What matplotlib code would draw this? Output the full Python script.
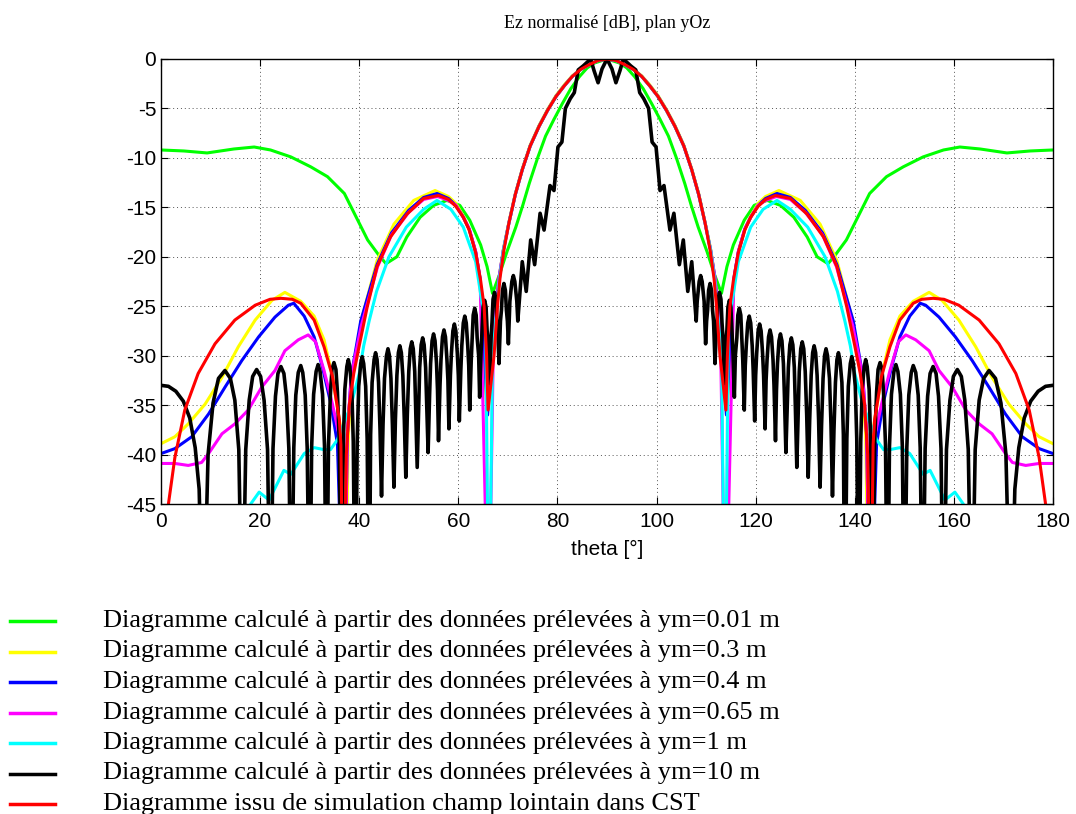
import matplotlib
matplotlib.use("Agg")
import matplotlib.pyplot as plt
from matplotlib.lines import Line2D
import numpy as np

plt.rcParams['axes.unicode_minus'] = False

# half patterns (theta 0..90 deg), mirrored about 90 deg
green_theta = [0, 4.6, 9.3, 14.7, 18.8, 22.1, 26.2, 30.2, 33.6, 37.0, 39.7, 41.7, 43.9, 45.4,
               47.6, 49.6, 52.3, 55.0, 57.7, 60.3, 62.3, 64.5, 65.8, 66.9, 68.3, 69.8, 71.6,
               73.0, 74.3, 76.0, 77.6, 79.3, 81.0, 82.7, 84.4, 86.0, 87.5, 90]
green_db = [-9.2, -9.3, -9.5, -9.1, -8.9, -9.2, -9.9, -10.9, -11.9, -13.6, -16.3, -18.3, -19.8, -20.7,
            -20.0, -18.0, -16.0, -14.8, -14.3, -14.8, -16.3, -18.8, -21.0, -23.7, -21.8, -19.5, -17.0,
            -14.8, -12.6, -10.0, -7.8, -6.1, -4.5, -3.0, -1.8, -0.9, -0.4, 0.0]

yellow_theta = [0, 2.8, 5.5, 8.9, 12.3, 15.6, 19.0, 22.4, 25.0, 28.2, 30.9, 32.9, 34.6, 36.3, 37.1,
                37.8, 38.6, 40.6, 43.6, 47.0, 51.0, 55.3, 58.0, 59.5, 61.0, 62.0, 63.4, 64.3, 65.8,
                67.1, 68.2, 69.1, 70.2, 71.5, 72.9, 74.5, 76.3, 78.0, 79.7, 81.4, 83.0, 84.7, 86.4,
                88.2, 90]
yellow_db = [-38.9, -38.2, -36.9, -34.9, -32.2, -29.1, -26.4, -24.4, -23.6, -24.5, -26.0, -28.4, -32.1,
             -37.5, -60, -38.0, -32.0, -26.1, -20.4, -16.7, -14.3, -13.3, -13.9, -14.6, -15.9, -17.0,
             -19.3, -22.0, -36.0, -28.0, -22.2, -19.2, -16.5, -13.6, -11.1, -8.7, -6.7, -5.1, -3.7,
             -2.6, -1.7, -1.0, -0.55, -0.15, 0.0]

blue_theta = [0, 2.8, 6.2, 9.6, 12.9, 16.3, 19.7, 23.0, 25.7, 26.8, 28.9, 30.9, 32.6, 34.3, 35.6,
              36.9, 37.6, 38.4, 40.3, 43.6, 46.5, 50.0, 53.0, 55.7, 58.0, 59.5, 61.0, 62.2, 63.5,
              64.4, 65.9, 67.1, 68.2, 69.1, 70.2, 71.5, 72.9, 74.5, 76.3, 78.0, 79.7, 81.4, 83.0,
              84.7, 86.4, 88.2, 90]
blue_db = [-39.9, -39.4, -38.2, -35.9, -33.2, -30.5, -28.1, -26.1, -24.9, -24.7, -26.0, -28.1, -31.2,
           -34.9, -38.9, -60, -38.0, -32.0, -26.5, -20.8, -17.6, -15.3, -14.0, -13.6, -14.1, -14.8,
           -16.0, -17.2, -19.5, -22.2, -36.0, -28.0, -22.2, -19.3, -16.6, -13.7, -11.2, -8.8, -6.8,
           -5.2, -3.8, -2.7, -1.76, -1.05, -0.57, -0.15, 0.0]

magenta_theta = [0, 2.8, 5.5, 8.2, 9.6, 12.3, 14.9, 17.6, 20.3, 23.0, 25.0, 27.7, 29.7, 31.2, 32.9,
                 34.6, 36.0, 36.9, 37.6, 38.4, 40.4, 43.7, 46.5, 50.0, 53.0, 55.8, 58.0, 59.5, 61.0,
                 62.2, 63.5, 64.4, 66.1, 67.1, 68.2, 69.1, 70.2, 71.5, 72.9, 74.5, 76.3, 78.0, 79.7,
                 81.4, 83.0, 84.7, 86.4, 88.2, 90]
magenta_db = [-40.9, -40.9, -41.1, -40.8, -39.9, -37.9, -36.9, -35.5, -33.2, -31.5, -29.5, -28.4, -27.9,
              -28.6, -31.5, -34.9, -38.2, -60, -38.0, -32.0, -27.0, -21.0, -17.8, -15.5, -14.2, -13.9,
              -14.3, -14.8, -16.0, -17.2, -19.5, -22.3, -60, -28.0, -22.2, -19.3, -16.6, -13.7,
              -11.2, -8.8, -6.8, -5.2, -3.8, -2.7, -1.76, -1.05, -0.57, -0.15, 0.0]

cyan_theta = [0, 17.5, 18.1, 19.8, 21.8, 24.8, 26.2, 28.9, 30.9, 32.9, 34.2, 35.6, 36.9, 38.3, 40.0,
              40.9, 42.0, 43.5, 46.0, 49.5, 53.0, 55.7, 58.5, 61.0, 63.5, 65.5, 66.2, 66.9, 68.3,
              69.1, 70.2, 71.5, 72.9, 74.5, 76.3, 78.0, 79.7, 81.4, 83.0, 84.7, 86.4, 88.2, 90]
cyan_db = [-60, -50, -45, -43.8, -44.6, -41.6, -42.0, -39.9, -39.3, -39.5, -39.5, -38.5, -36.8, -35.1,
           -31.8, -29.0, -26.5, -23.5, -20.0, -17.0, -15.2, -14.3, -15.2, -17.0, -20.5, -27.0, -60,
           -30.0, -22.2, -19.3, -16.6, -13.7, -11.2, -8.8, -6.8, -5.2, -3.8, -2.7, -1.76, -1.05,
           -0.57, -0.15, 0.0]

black_theta = [0, 1.5, 3.0, 4.5, 5.8, 6.9, 7.7, 8.5,
               9.5, 10.5, 11.6, 12.9, 14.0, 14.9, 15.7, 16.4,
               17.1, 17.8, 18.5, 19.3, 20.1, 20.8, 21.5, 22.1,
               22.6, 23.1, 23.6, 24.2, 24.8, 25.3, 25.8, 26.3,
               26.8, 27.2, 27.7, 28.2, 28.6, 29.1, 29.5, 30.0,
               30.4, 30.8, 31.3, 31.7, 32.1, 32.6, 33.0, 33.4,
               33.8, 34.2, 34.5, 34.9, 35.3, 35.6, 36.0, 36.4,
               36.8, 37.1, 37.5, 37.8, 38.1, 38.5, 38.8, 39.2,
               39.6, 39.9, 40.3, 40.6, 40.9, 41.3, 41.6, 42.0,
               42.3, 42.6, 43.0, 43.3, 43.6, 43.9, 44.2, 44.5,
               44.8, 45.1, 45.5, 45.8, 46.1, 46.4, 46.7, 47.0,
               47.3, 47.6, 47.9, 48.2, 48.5, 48.8, 49.1, 49.4,
               49.7, 50.0, 50.3, 50.6, 50.9, 51.2, 51.4, 51.7,
               52.0, 52.2, 52.5, 52.8, 53.1, 53.4, 53.6, 53.9,
               54.2, 54.4, 54.7, 55.0, 55.3, 55.6, 55.8, 56.0,
               56.3, 56.5, 56.8, 57.1, 57.4, 57.7, 57.9, 58.1,
               58.4, 58.6, 58.9, 59.2, 59.5, 59.8, 60.0, 60.2,
               60.5, 60.7, 61.0, 61.3, 61.6, 61.9, 62.1, 62.3,
               62.6, 62.8, 63.0, 63.3, 63.6, 63.8, 64.1, 64.3,
               64.6, 64.8, 65.0, 65.3, 65.6, 65.8, 66.1, 66.3,
               66.6, 66.8, 67.0, 67.3, 67.6, 67.8, 68.0, 68.2,
               68.5, 68.7, 68.9, 69.2, 69.5, 69.7, 69.9, 70.1,
               70.4, 70.8, 71.1, 71.4, 71.8, 72.0,
               72.9, 73.7, 74.6, 75.4, 76.5, 77.3, 78.5, 79.3, 80.1, 80.9,
               81.6, 82.6, 83.4, 84.2, 85.2, 86.7, 87.4, 88.2, 89.0, 90.0]
black_db = [-33.0, -33.1, -33.6, -34.6, -36.3, -39.3, -43.5, -60,
            -40.0, -34.8, -32.3, -31.5, -32.3, -34.5, -39.5, -60,
            -39.5, -34.5, -32.1, -31.4, -32.1, -34.5, -39.5, -60,
            -39.4, -34.1, -31.8, -31.1, -31.8, -34.1, -39.4, -60,
            -39.3, -34.0, -31.7, -31.0, -31.7, -34.0, -39.3, -60,
            -39.2, -33.9, -31.6, -30.9, -31.6, -33.9, -39.2, -60,
            -39.0, -33.7, -31.4, -30.7, -31.4, -33.7, -39.0, -60,
            -38.7, -33.4, -31.1, -30.4, -31.1, -33.4, -38.7, -60,
            -38.4, -33.1, -30.8, -30.1, -30.8, -33.1, -38.4, -60,
            -38.0, -32.7, -30.4, -29.7, -30.4, -32.7, -37.5, -44.2,
            -37.0, -32.3, -30.0, -29.3, -30.0, -32.3, -37.0, -43.3,
            -36.5, -32.0, -29.7, -29.0, -29.7, -32.0, -36.5, -42.3,
            -36.0, -31.6, -29.3, -28.6, -29.3, -31.6, -35.5, -41.3,
            -35.0, -31.2, -28.9, -28.2, -28.9, -31.2, -34.5, -39.8,
            -34.0, -30.8, -28.5, -27.8, -28.5, -30.8, -33.5, -38.6,
            -33.0, -30.4, -28.1, -27.4, -28.1, -30.4, -32.5, -37.4,
            -32.0, -29.8, -27.5, -26.8, -27.5, -29.8, -32.0, -36.6,
            -31.5, -29.0, -26.7, -26.0, -26.7, -29.0, -31.0, -35.5,
            -30.5, -28.2, -25.9, -25.2, -25.9, -28.2, -30.0, -34.2,
            -29.5, -27.4, -25.1, -24.4, -25.1, -27.4, -29.0, -32.8,
            -28.2, -26.6, -24.3, -23.6, -24.3, -26.6, -28.0, -30.8,
            -26.5, -25.4, -23.4, -22.7, -23.4, -25.4, -26.5, -28.8,
            -24.5, -22.5, -21.9, -22.5, -24.5, -26.5,
            -20.5, -23.5, -18.3, -20.8, -15.6, -17.3, -12.8, -13.3, -8.9, -8.4,
            -5.0, -4.0, -3.4, -1.1, -0.7, 0.0, -1.2, -2.4, -1.0, 0.0]

red_theta = [0, 1.5, 2.8, 4.8, 7.5, 10.9, 14.9, 19.0, 22.0, 24.2, 26.5, 28.2, 30.9, 32.9, 34.6,
             36.0, 36.3, 36.8, 37.4, 38.0, 38.9, 40.0, 41.6, 43.6, 46.3, 49.6, 53.0, 56.0, 58.0,
             59.5, 61.0, 62.2, 63.5, 64.5, 65.2, 65.7, 66.0, 67.2, 67.9, 68.4, 69.2, 70.2, 71.5,
             72.9, 74.5, 76.3, 78.0, 79.7, 81.4, 83.0, 84.7, 86.4, 88.2, 90]
red_db = [-48.0, -45.0, -40.3, -35.5, -31.8, -28.8, -26.4, -24.9, -24.3, -24.2, -24.3, -24.7, -26.4,
          -29.1, -32.1, -36.5, -39.0, -60, -40.0, -35.0, -31.8, -29.0, -25.1, -21.0, -18.0, -15.7,
          -14.1, -13.8, -14.2, -14.9, -16.0, -17.3, -19.6, -22.4, -25.0, -30.0, -35.5, -30.0,
          -25.0, -22.2, -19.3, -16.6, -13.7, -11.2, -8.8, -6.8, -5.2, -3.8, -2.7, -1.76, -1.05,
          -0.57, -0.15, 0.0]

labels = [
    "Diagramme calculé à partir des données prélevées à ym=0.01 m",
    "Diagramme calculé à partir des données prélevées à ym=0.3 m",
    "Diagramme calculé à partir des données prélevées à ym=0.4 m",
    "Diagramme calculé à partir des données prélevées à ym=0.65 m",
    "Diagramme calculé à partir des données prélevées à ym=1 m",
    "Diagramme calculé à partir des données prélevées à ym=10 m",
    "Diagramme issu de simulation champ lointain dans CST",
]
colors = ['#00ff00', '#ffff00', '#0000ff', '#ff00ff', '#00ffff', '#000000', '#ff0000']


def mirror(theta, db):
    th = np.asarray(theta, float)
    d = np.asarray(db, float)
    return np.concatenate([th, 180 - th[::-1][1:]]), np.concatenate([d, d[::-1][1:]])


series = [(green_theta, green_db), (yellow_theta, yellow_db), (blue_theta, blue_db),
          (magenta_theta, magenta_db), (cyan_theta, cyan_db), (black_theta, black_db),
          (red_theta, red_db)]

fig = plt.figure(figsize=(10.76, 8.14), dpi=100)
W, H = 1076, 814
ax = fig.add_axes([161 / W, 1 - 504 / H, (1053 - 161) / W, (504 - 59) / H])

for (th, db), c in zip(series, colors):
    x, y = mirror(th, db)
    lw = 2.6 if c == '#000000' else 2.2
    ax.plot(x, y, color=c, linewidth=lw, solid_joinstyle='round')

ax.set_xlim(0, 180)
ax.set_ylim(-45, 0)
ax.set_xticks(range(0, 181, 20))
ax.set_yticks(range(-45, 1, 5))
ax.grid(True, linestyle=(0, (1, 3)), color='#555555', linewidth=0.7)
ax.tick_params(direction='in', top=True, right=True, length=5, labelsize=15)
ax.tick_params(axis='x', pad=6)
for lab in ax.get_xticklabels() + ax.get_yticklabels():
    lab.set_family('Liberation Sans')
for s in ax.spines.values():
    s.set_linewidth(1.0)
ax.set_xlabel("theta [°]", fontsize=15, family='Liberation Sans', labelpad=6)
ax.set_title("Ez normalisé [dB], plan yOz", fontsize=13, family='Liberation Serif', pad=22)

# legend below the axes
for i, (lab, c) in enumerate(zip(labels, colors)):
    yc = 1 - (621 + 30.5 * i) / H
    fig.add_artist(Line2D([10 / W, 55 / W], [yc, yc], color=c, linewidth=2.5,
                          transform=fig.transFigure))
    fig.text(103 / W, yc, lab, fontsize=19, family='Liberation Serif', va='center', ha='left')

fig.savefig("out.png", dpi=100)
